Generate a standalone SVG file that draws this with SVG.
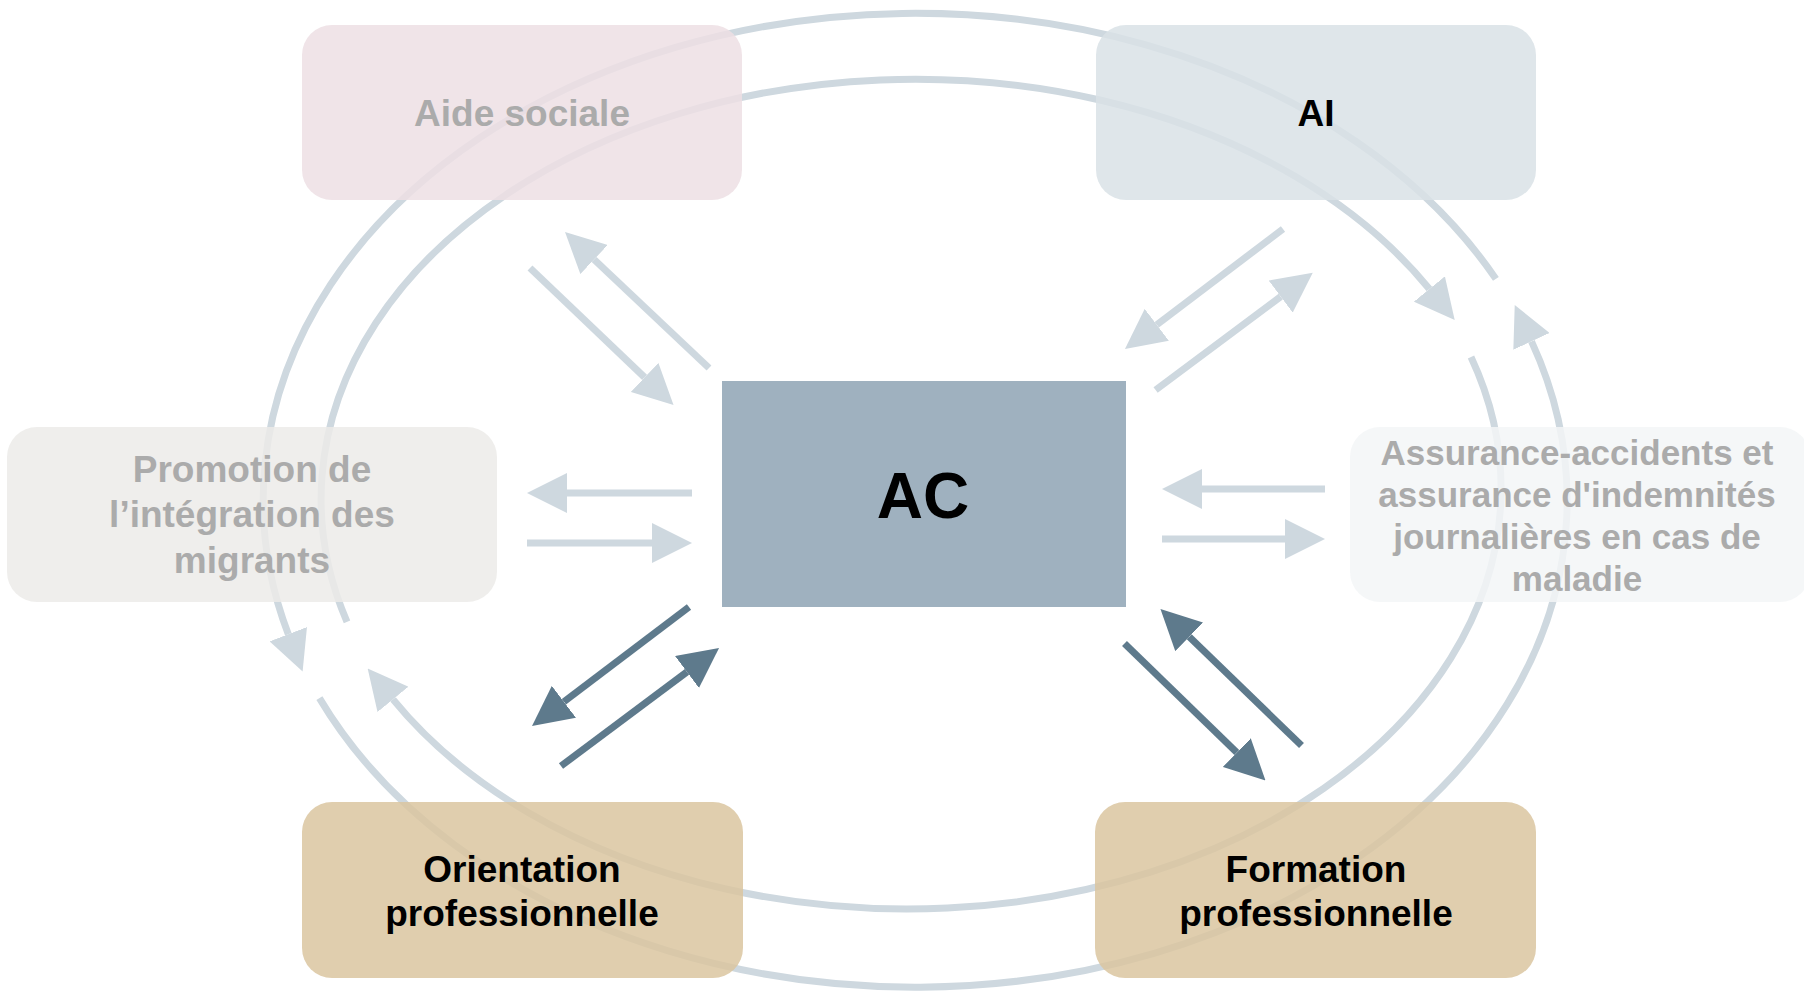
<svg xmlns="http://www.w3.org/2000/svg" width="1804" height="992" viewBox="0 0 1804 992">
<style>
.ring{fill:none;stroke:#CED8DF;stroke-width:7}
.la{fill:none;stroke:#CED8DF;stroke-width:7}
.da{fill:none;stroke:#5E7A8C;stroke-width:7}
.box{fill-opacity:0.85}
.t{font-family:"Liberation Sans",Arial,Helvetica,sans-serif;font-weight:bold;text-anchor:middle}
.grey{fill:#ABABAB;font-size:37px}
.blk{fill:#000000;font-size:37px}
</style>
<defs>
<marker id="hl" markerUnits="userSpaceOnUse" markerWidth="40" markerHeight="40" refX="0" refY="20" orient="auto" viewBox="0 0 40 40">
<path d="M0,0 L40,20 L0,40 z" fill="#CED8DF"/>
</marker>
<marker id="hd" markerUnits="userSpaceOnUse" markerWidth="40" markerHeight="40" refX="0" refY="20" orient="auto" viewBox="0 0 40 40">
<path d="M0,0 L40,20 L0,40 z" fill="#5E7A8C"/>
</marker>
</defs>
<rect width="1804" height="992" fill="#FFFFFF"/>
<g id="connectors-rings">
<path class="ring" d="M1495.9,278.9 A652,487 0 0 0 288.3,634.2" marker-end="url(#hl)"/>
<path class="ring" d="M319.4,698.1 A652,487 0 0 0 1531.5,341.4" marker-end="url(#hl)"/>
<path class="ring" d="M347,621.8 A594,420 0 0 1 1429.4,289" marker-end="url(#hl)"/>
<path class="ring" d="M1471,357 A594,420 0 0 1 393,699.4" marker-end="url(#hl)"/>
</g>
<g id="node-aide-sociale">
<rect class="box" x="302" y="25" width="440" height="175" rx="30" fill="#EDDFE4"/>
<text class="t grey" x="522" y="126">Aide sociale</text>
</g>
<g id="node-ai">
<rect class="box" x="1096" y="25" width="440" height="175" rx="30" fill="#D9E2E6"/>
<text class="t blk" x="1316" y="126">AI</text>
</g>
<g id="node-promotion">
<rect class="box" x="7" y="427" width="490" height="175" rx="30" fill="#ECEBE9"/>
<text class="t grey" x="252" y="482">Promotion de</text>
<text class="t grey" x="252" y="527">l’intégration des</text>
<text class="t grey" x="252" y="573">migrants</text>
</g>
<g id="node-assurance">
<rect class="box" x="1350" y="427" width="460" height="175" rx="30" fill="#F3F6F7"/>
<text class="t grey" style="font-size:35px" x="1577" y="465">Assurance-accidents et</text>
<text class="t grey" style="font-size:35px" x="1577" y="507">assurance d'indemnités</text>
<text class="t grey" style="font-size:35px" x="1577" y="549">journalières en cas de</text>
<text class="t grey" style="font-size:35px" x="1577" y="591">maladie</text>
</g>
<g id="node-orientation">
<rect class="box" x="302" y="802" width="441" height="176" rx="30" fill="#DBC5A0"/>
<text class="t blk" x="522" y="882">Orientation</text>
<text class="t blk" x="522" y="926">professionnelle</text>
</g>
<g id="node-formation">
<rect class="box" x="1095" y="802" width="441" height="176" rx="30" fill="#DBC5A0"/>
<text class="t blk" x="1316" y="882">Formation</text>
<text class="t blk" x="1316" y="926">professionnelle</text>
</g>
<g id="node-ac">
<rect x="722" y="381" width="404" height="226" fill="#9FB1BF"/>
<text class="t" x="923" y="518" style="font-size:64px" fill="#000000">AC</text>
</g>
<g id="connectors">
<path class="la" d="M530,268 L644.6,377.4" marker-end="url(#hl)"/>
<path class="la" d="M709,368 L594.1,259.5" marker-end="url(#hl)"/>
<path class="la" d="M692,493 L567,493" marker-end="url(#hl)"/>
<path class="la" d="M527,543 L652,543" marker-end="url(#hl)"/>
<path class="la" d="M1325,489 L1202,489" marker-end="url(#hl)"/>
<path class="la" d="M1162,539 L1285,539" marker-end="url(#hl)"/>
<path class="la" d="M1283,229 L1156.8,324.8" marker-end="url(#hl)"/>
<path class="la" d="M1155.6,390 L1280.7,296.6" marker-end="url(#hl)"/>
<path class="da" d="M689,607 L563.9,701.8" marker-end="url(#hd)"/>
<path class="da" d="M561,766 L687,671.9" marker-end="url(#hd)"/>
<path class="da" d="M1124.5,643.5 L1236.8,752.6" marker-end="url(#hd)"/>
<path class="da" d="M1301.5,745.5 L1189.2,636.8" marker-end="url(#hd)"/>
</g>
</svg>
